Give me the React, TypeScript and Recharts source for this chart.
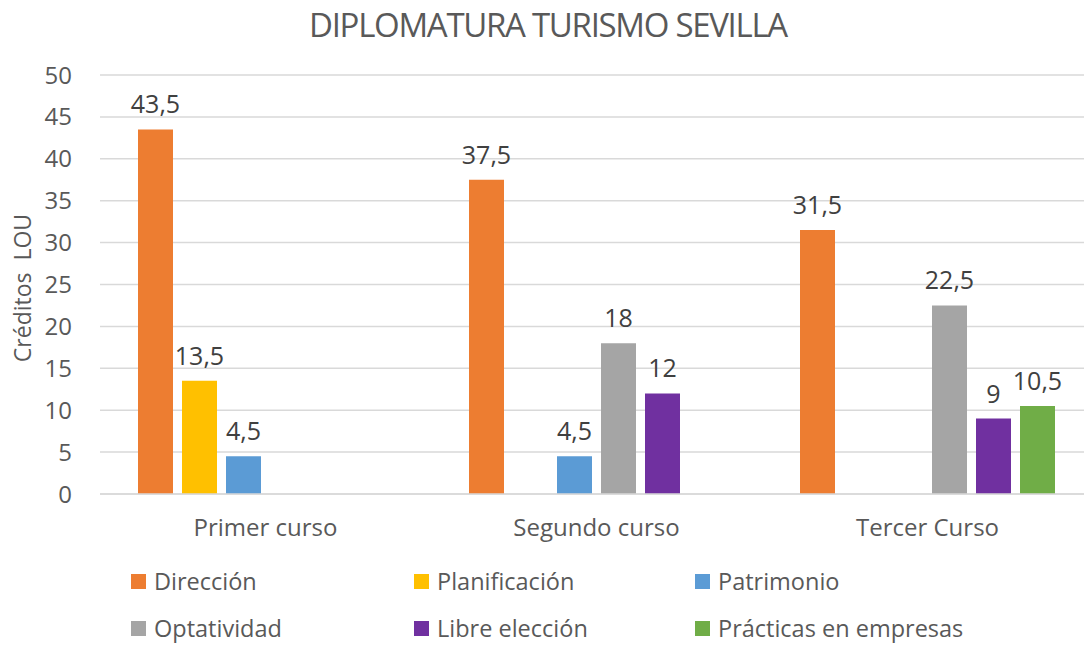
import { BarChart, Bar, CartesianGrid, XAxis, YAxis, LabelList } from "recharts";

const categories = ["Primer curso", "Segundo curso", "Tercer Curso"];
const direccion = [43.5, 37.5, 31.5];
const planificacion = [13.5, null, null];
const patrimonio = [4.5, 4.5, null];
const optatividad = [null, 18, 22.5];
const libreEleccion = [null, 12, 9];
const practicas = [null, null, 10.5];
const yTicks = [0, 5, 10, 15, 20, 25, 30, 35, 40, 45, 50];

const series = [
  { key: "direccion", name: "Dirección", color: "#ED7D31", values: direccion },
  { key: "planificacion", name: "Planificación", color: "#FFC000", values: planificacion },
  { key: "patrimonio", name: "Patrimonio", color: "#5B9BD5", values: patrimonio },
  { key: "optatividad", name: "Optatividad", color: "#A5A5A5", values: optatividad },
  { key: "libre", name: "Libre elección", color: "#7030A0", values: libreEleccion },
  { key: "practicas", name: "Prácticas en empresas", color: "#70AD47", values: practicas },
];

const data = categories.map((name, i) => {
  const row: Record<string, string | number | null> = { name };
  series.forEach((s) => {
    row[s.key] = s.values[i];
  });
  return row;
});

const FONT = "'Open Sans', 'Noto Sans', sans-serif";
const TEXT = "#595959";

const formatValue = (v: unknown) => (v == null ? "" : String(v).replace(".", ","));

// legend laid out like the Excel one: 3 columns, 2 rows
const legendCols = [131, 414, 695];
const legendRows = [581, 628];

const App = () => {
  return (
    <div
      style={{
        position: "absolute",
        left: 0,
        top: 0,
        width: 1084,
        height: 646,
        overflow: "hidden",
        background: "#fff",
        fontFamily: FONT,
      }}
    >
      <div
        style={{
          position: "absolute",
          top: 2,
          left: 0,
          width: 1096,
          textAlign: "center",
          fontSize: 33,
          color: TEXT,
          letterSpacing: -1.3,
        }}
      >
        DIPLOMATURA TURISMO SEVILLA
      </div>
      <div
        style={{
          position: "absolute",
          left: 22,
          top: 288,
          transform: "translate(-50%, -50%) rotate(-90deg)",
          fontSize: 23,
          color: TEXT,
          whiteSpace: "nowrap",
        }}
      >
        Créditos&nbsp;&nbsp;LOU
      </div>
      <BarChart
        width={1100}
        height={646}
        data={data}
        margin={{ top: 75, right: 7, left: 20, bottom: 92 }}
        barSize={35}
        barGap={9}
      >
        <CartesianGrid vertical={false} stroke="#D9D9D9" strokeWidth={1.5} />
        <XAxis
          dataKey="name"
          height={60}
          tickLine={false}
          axisLine={{ stroke: "#D9D9D9", strokeWidth: 1.5 }}
          tickSize={0}
          tickMargin={25}
          tick={{ fill: TEXT, fontSize: 24, fontFamily: FONT }}
        />
        <YAxis
          width={80}
          domain={[0, 50]}
          ticks={yTicks}
          interval={0}
          tickLine={false}
          axisLine={false}
          tickSize={0}
          tickMargin={28}
          tick={{ fill: TEXT, fontSize: 24, fontFamily: FONT }}
        />
        {series.map((s) => (
          <Bar key={s.key} dataKey={s.key} name={s.name} fill={s.color} isAnimationActive={false}>
            <LabelList
              dataKey={s.key}
              position="top"
              offset={16}
              formatter={formatValue}
              fill="#404040"
              fontSize={25}
              fontFamily={FONT}
            />
          </Bar>
        ))}
      </BarChart>
      {series.map((s, i) => (
        <div
          key={s.key}
          style={{
            position: "absolute",
            left: legendCols[i % 3],
            top: legendRows[Math.floor(i / 3)] - 16,
            height: 32,
            display: "flex",
            alignItems: "center",
            fontSize: 23.5,
            color: TEXT,
            whiteSpace: "nowrap",
          }}
        >
          <span
            style={{ display: "inline-block", width: 15, height: 15, background: s.color, marginRight: 8 }}
          />
          {s.name}
        </div>
      ))}
    </div>
  );
};

export default App;
